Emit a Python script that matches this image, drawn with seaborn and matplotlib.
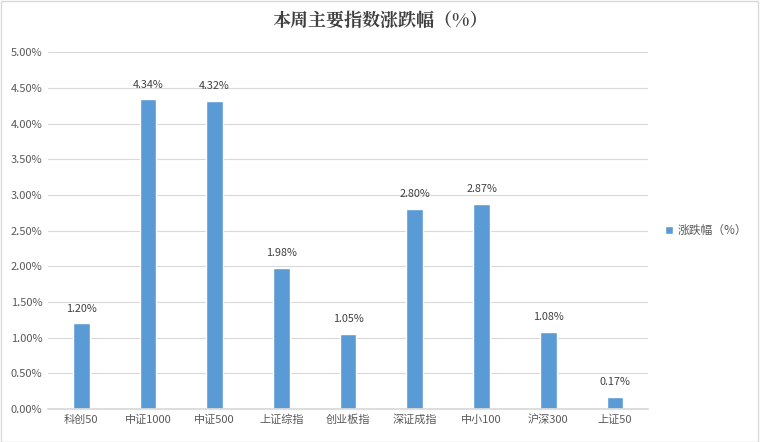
import pandas as pd
import numpy as np
import matplotlib.pyplot as plt
import seaborn as sns
from matplotlib.ticker import FuncFormatter

categories = ['科创50', '中证1000', '中证500', '上证综指', '创业板指', '深证成指', '中小100', '沪深300', '上证50']
changes = [1.20, 4.34, 4.32, 1.98, 1.05, 2.80, 2.87, 1.08, 0.17]
series_name = '涨跌幅（%）'

sns.set_theme(style="white")
plt.rcParams['font.family'] = ['Noto Sans CJK SC', 'DejaVu Sans']

df = pd.DataFrame({'index': categories, 'value': changes})

bar_color = '#5B9BD5'
text_color = '#595959'

fig = plt.figure(figsize=(7.6, 4.42), dpi=100)
ax = fig.add_axes([0.063, 0.0747, 0.79, 0.8073])

sns.barplot(data=df, x='index', y='value', color=bar_color, width=0.25,
            saturation=1, ax=ax, label=series_name)

ax.set_ylim(0, 5)
ax.set_yticks(np.arange(0, 5.01, 0.5))
ax.yaxis.set_major_formatter(FuncFormatter(lambda v, p: f'{v:.2f}%'))
ax.grid(axis='y', color='#D9D9D9', linewidth=0.8)
ax.set_axisbelow(True)
for s in ['left', 'right', 'top']:
    ax.spines[s].set_visible(False)
ax.spines['bottom'].set_color('#D9D9D9')
ax.tick_params(axis='both', length=0, labelsize=8, colors=text_color, pad=4)
ax.set_xlabel('')
ax.set_ylabel('')

for c in ax.containers:
    ax.bar_label(c, labels=[f'{v:.2f}%' for v in changes], padding=7,
                 fontsize=7.8, color='#404040')

leg = ax.legend(loc='center left', bbox_to_anchor=(1.01, 0.5), frameon=False,
                fontsize=8.5, handlelength=0.7, handleheight=0.7, handletextpad=0.4,
                labelcolor=text_color)

fig.suptitle('本周主要指数涨跌幅（%）', y=0.975, fontsize=13, fontweight='bold',
             color='#404040', family=['Noto Serif CJK SC', 'Noto Sans CJK SC', 'DejaVu Sans'])

fig.patches.append(plt.Rectangle((0.001, 0.001), 0.997, 0.997, transform=fig.transFigure,
                                 fill=False, edgecolor='#D9D9D9', linewidth=1))

fig.savefig('out.png', dpi=100)
